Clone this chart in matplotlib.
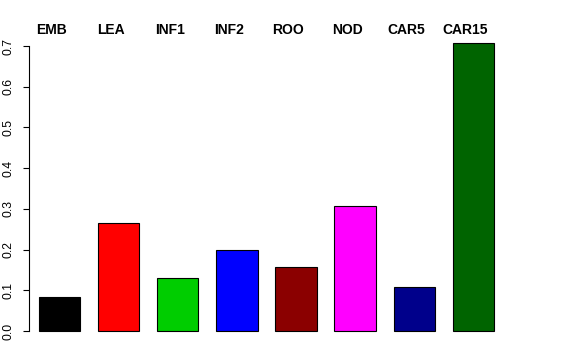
import matplotlib
matplotlib.use('Agg')
import matplotlib.pyplot as plt

# 数据
labels = ['EMB', 'LEA', 'INF1', 'INF2', 'ROO', 'NOD', 'CAR5', 'CAR15']
values = [0.083, 0.266, 0.131, 0.198, 0.157, 0.308, 0.109, 0.707]
colors = ['black', 'red', '#00CD00', 'blue', '#8B0000', 'magenta', '#00008B', '#006400']
yticks = [0.0, 0.1, 0.2, 0.3, 0.4, 0.5, 0.6, 0.7]

plt.rcParams['font.family'] = ['Liberation Sans', 'DejaVu Sans']

fig = plt.figure(figsize=(5.76, 3.6), dpi=100)
# 绘图区位置按像素算
ax = fig.add_axes([29/576, (360-342.4)/360, (560-29)/576, (342.4-34.6)/360])

x = range(len(values))
ax.bar(x, values, width=0.7, color=colors, edgecolor='black', linewidth=0.8)

ax.set_xlim(-0.511, 8.46)
ax.set_ylim(-0.028, 0.728)

# 只留左边的轴
for s in ['top', 'right', 'bottom']:
    ax.spines[s].set_visible(False)
ax.spines['left'].set_bounds(0, 0.7)
ax.spines['left'].set_linewidth(0.8)
ax.set_xticks([])
ax.set_yticks(yticks)
ax.set_yticklabels(['%.1f' % t for t in yticks], rotation=90, va='center', fontsize=8.7)
ax.tick_params(axis='y', length=4.3, width=0.8, pad=6.2)

# 顶部标签
for i, lab in enumerate(labels):
    ax.text(i - 0.135, 0.740, lab, ha='center', va='center',
            fontsize=10, fontweight='bold')

fig.savefig('out.png', dpi=100)
